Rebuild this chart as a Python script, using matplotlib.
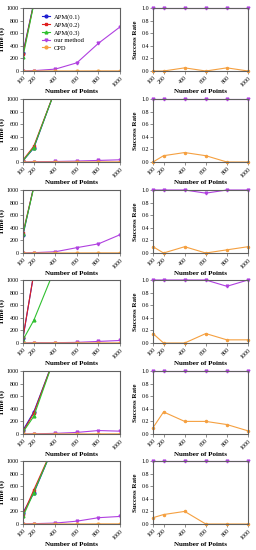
import numpy as np
import matplotlib.pyplot as plt

plt.rcParams['font.family'] = ['Liberation Serif', 'DejaVu Serif']

points = [100, 200, 400, 600, 800, 1000]
methods = ["APM(0.1)", "APM(0.2)", "APM(0.3)", "our method", "CPD"]
colors = ["#1f1fd0", "#e02020", "#30c030", "#b040e0", "#f5a040"]
markers = ["o", "s", "^", "v", "o"]

# time (s) per experiment, one list per method
time_apm1 = [
    [290, 1080, 3000, 6000, 9000, 12000],
    [20, 220, 1150, 3000, 6000, 9000],
    [280, 1060, 3000, 6000, 9000, 12000],
    [80, 1100, 3000, 6000, 9000, 12000],
    [60, 350, 1250, 3000, 6000, 9000],
    [180, 490, 1300, 3000, 6000, 9000],
]
time_apm2 = [
    [270, 1070, 3000, 6000, 9000, 12000],
    [30, 250, 1150, 3000, 6000, 9000],
    [320, 1050, 3000, 6000, 9000, 12000],
    [90, 1100, 3000, 6000, 9000, 12000],
    [40, 330, 1250, 3000, 6000, 9000],
    [150, 540, 1300, 3000, 6000, 9000],
]
time_apm3 = [
    [230, 1060, 3000, 6000, 9000, 12000],
    [20, 230, 1150, 3000, 6000, 9000],
    [300, 1040, 3000, 6000, 9000, 12000],
    [50, 360, 1200, 3000, 6000, 9000],
    [30, 280, 1250, 3000, 6000, 9000],
    [120, 500, 1300, 3000, 6000, 9000],
]
time_ours = [
    [0, 5, 30, 130, 440, 700],
    [0, 5, 8, 15, 25, 35],
    [0, 5, 20, 85, 145, 290],
    [0, 5, 5, 10, 25, 40],
    [0, 3, 10, 25, 55, 45],
    [0, 5, 15, 45, 100, 120],
]
time_cpd = [
    [0, 0, 1, 1, 2, 2],
    [0, 0, 1, 1, 1, 2],
    [0, 0, 1, 1, 2, 2],
    [0, 0, 1, 1, 1, 2],
    [0, 0, 1, 1, 2, 2],
    [0, 0, 1, 1, 2, 2],
]

# success rate per experiment
rate_ours = [
    [1, 1, 1, 1, 1, 1],
    [1, 1, 1, 1, 1, 1],
    [1, 1, 1, 0.95, 1, 1],
    [1, 1, 1, 1, 0.9, 1],
    [1, 1, 1, 1, 1, 1],
    [1, 1, 1, 1, 1, 1],
]
rate_cpd = [
    [0, 0, 0.05, 0, 0.05, 0],
    [0, 0.1, 0.15, 0.1, 0, 0],
    [0.1, 0, 0.1, 0, 0.05, 0.1],
    [0.15, 0, 0, 0.15, 0.05, 0.05],
    [0.1, 0.35, 0.2, 0.2, 0.15, 0.05],
    [0.1, 0.15, 0.2, 0, 0, 0],
]

fig = plt.figure(figsize=(2.56, 5.5), dpi=100)
W, H = 256, 550
tops = [8, 99, 190, 280, 371, 461]
h = 63


def style(ax):
    for s in ax.spines.values():
        s.set_color("#606060")
        s.set_linewidth(0.8)
    ax.tick_params(labelsize=4.3, length=2, width=0.5, pad=1, color="#606060")
    ax.set_xlim(100, 1000)
    ax.set_xticks(points)
    ax.set_xticklabels([str(p) for p in points], rotation=45, ha="right",
                       rotation_mode="anchor")
    ax.set_xlabel("Number of Points", fontsize=5, fontweight="bold", labelpad=1)


for i in range(6):
    top = tops[i]
    axl = fig.add_axes([23 / W, 1 - (top + h) / H, 97 / W, h / H])
    series = [time_apm1[i], time_apm2[i], time_apm3[i], time_ours[i], time_cpd[i]]
    for name, ys, c, m in zip(methods, series, colors, markers):
        axl.plot(points, ys, color=c, marker=m, markersize=2, linewidth=0.8,
                 label=name, clip_on=True)
    axl.set_ylim(0, 1000)
    axl.set_yticks(range(0, 1001, 200))
    style(axl)
    axl.set_ylabel("Time (s)", fontsize=5, fontweight="bold", labelpad=1)
    if i == 0:
        axl.legend(loc="upper right", fontsize=4.7, frameon=False,
                   handlelength=1.2, handletextpad=0.6, labelspacing=0.3,
                   bbox_to_anchor=(0.69, 1.0))

    axr = fig.add_axes([153 / W, 1 - (top + h) / H, 95 / W, h / H])
    axr.plot(points, rate_ours[i], color=colors[3], marker="v", markersize=2,
             linewidth=0.8, clip_on=False)
    axr.plot(points, rate_cpd[i], color=colors[4], marker="o", markersize=1.5,
             linewidth=0.8, clip_on=False)
    axr.set_ylim(0, 1.0)
    axr.set_yticks(np.arange(0, 1.01, 0.2))
    axr.set_yticklabels(["0.0", "0.2", "0.4", "0.6", "0.8", "1.0"])
    style(axr)
    axr.set_ylabel("Success Rate", fontsize=5, fontweight="bold", labelpad=2)

plt.savefig("out.png", dpi=100)
